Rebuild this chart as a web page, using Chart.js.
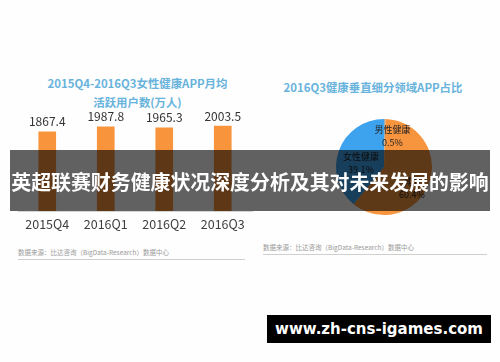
<!DOCTYPE html>
<html>
<head>
<meta charset="utf-8">
<script src="https://cdn.jsdelivr.net/npm/chart.js@4"></script>
<style>
  html, body { margin: 0; padding: 0; background: #ffffff; }
  #page { position: relative; width: 500px; height: 362px; overflow: hidden; background: #fefefe;
          font-family: "Noto Sans CJK SC", "Noto Sans", sans-serif; }
  .abs { position: absolute; }
  .title { color: #68b3dc; font-weight: bold; font-size: 11.4px; text-align: center; white-space: nowrap; line-height: 19px; }
  .source { color: #9a9a9a; font-size: 6.5px; white-space: nowrap; }
  .rule { height: 1px; background: #cfcfcf; }
  #banner { left: 10px; top: 150px; width: 480px; height: 61px; background: rgba(0,0,0,0.62);
            color: #ffffff; font-weight: bold; font-size: 19.9px; line-height: 64px; text-align: center; white-space: nowrap; }
  #site { left: 267px; top: 315px; width: 224px; height: 28px; background: #000000; color: #ffffff;
          font-family: "DejaVu Sans", sans-serif; font-weight: bold; font-size: 15px; line-height: 28px; text-align: center; }
</style>
</head>
<body>
<div id="page">
  <div class="abs title" style="left:25px; top:74px; width:225px;">2015Q4-2016Q3女性健康APP月均<br>活跃用户数(万人)</div>
  <div class="abs title" style="left:263px; top:78px; width:220px;">2016Q3健康垂直细分领域APP占比</div>

  <canvas id="bars" class="abs" style="left:0px; top:100px;" width="256" height="138"></canvas>
  <canvas id="pie" class="abs" style="left:300px; top:107px;" width="170" height="120"></canvas>

  <div class="abs source" style="left:18px; top:247px;">数据来源：比达咨询（BigData-Research）数据中心</div>
  <div class="abs rule" style="left:18px; top:259px; width:227px;"></div>
  <div class="abs source" style="left:263px; top:242px;">数据来源：比达咨询（BigData-Research）数据中心</div>
  <div class="abs rule" style="left:263px; top:254px; width:224px;"></div>

  <div id="banner" class="abs">英超联赛财务健康状况深度分析及其对未来发展的影响</div>
  <div id="site" class="abs">www.zh-cns-igames.com</div>
</div>

<script>
// Monthly active users of women's health apps (10k users)
const quarters = ["2015Q4", "2016Q1", "2016Q2", "2016Q3"];
const activeUsers = [1867.4, 1987.8, 1965.3, 2003.5];

// Share of health vertical apps, 2016Q3 (%)
const segments = ["男性健康", "其他", "女性健康"];
const segmentShare = [0.5, 60.4, 39.1];

const FONT = '"Noto Sans CJK SC", "Noto Sans", sans-serif';

// value labels above each bar
const barValueLabels = {
  id: 'barValueLabels',
  afterDatasetsDraw(chart) {
    const ctx = chart.ctx;
    const meta = chart.getDatasetMeta(0);
    ctx.save();
    ctx.fillStyle = '#333333';
    ctx.font = '12px ' + FONT;
    ctx.textAlign = 'center';
    ctx.textBaseline = 'bottom';
    meta.data.forEach((bar, i) => {
      ctx.fillText(activeUsers[i].toFixed(1), bar.x, bar.y - 4);
    });
    ctx.restore();
  }
};

new Chart(document.getElementById('bars'), {
  type: 'bar',
  data: {
    labels: quarters,
    datasets: [{
      data: activeUsers,
      backgroundColor: '#f7943c',
      barThickness: 17
    }]
  },
  options: {
    responsive: false,
    animation: false,
    layout: { padding: { top: 11, left: 18, right: 4, bottom: 0 } },
    plugins: { legend: { display: false }, tooltip: { enabled: false } },
    scales: {
      x: {
        grid: { display: false, drawTicks: false },
        border: { display: true, color: '#d4d4d4', width: 1 },
        ticks: { color: '#404040', font: { size: 12.5, family: FONT }, padding: 6 }
      },
      y: { display: false, min: 0, max: 2360 }
    }
  },
  plugins: [barValueLabels]
});

// slice labels: name on first line, share on second
const labelFraction = [0.65, 0.62, 0.51];
const labelShift = [[8, 0], [0, 11], [0, 4]];
const pieLabels = {
  id: 'pieLabels',
  afterDatasetsDraw(chart) {
    const ctx = chart.ctx;
    const meta = chart.getDatasetMeta(0);
    ctx.save();
    ctx.fillStyle = '#222222';
    ctx.font = '9px ' + FONT;
    ctx.textAlign = 'center';
    ctx.textBaseline = 'middle';
    meta.data.forEach((arc, i) => {
      const mid = (arc.startAngle + arc.endAngle) / 2;
      const d = arc.outerRadius * labelFraction[i];
      const x = arc.x + Math.cos(mid) * d + labelShift[i][0];
      const y = arc.y + Math.sin(mid) * d + labelShift[i][1];
      ctx.fillText(segments[i], x, y - 6.5);
      ctx.fillText(segmentShare[i].toFixed(1) + '%', x, y + 6.5);
    });
    ctx.restore();
  }
};

new Chart(document.getElementById('pie'), {
  type: 'pie',
  data: {
    labels: segments,
    datasets: [{
      data: segmentShare,
      backgroundColor: ['#a9a9a9', '#f7953f', '#3ea3ee'],
      borderWidth: 0
    }]
  },
  options: {
    responsive: false,
    animation: false,
    layout: { padding: { top: 12, bottom: 12, left: 36, right: 38 } },
    plugins: { legend: { display: false }, tooltip: { enabled: false } }
  },
  plugins: [pieLabels]
});
</script>
</body>
</html>
